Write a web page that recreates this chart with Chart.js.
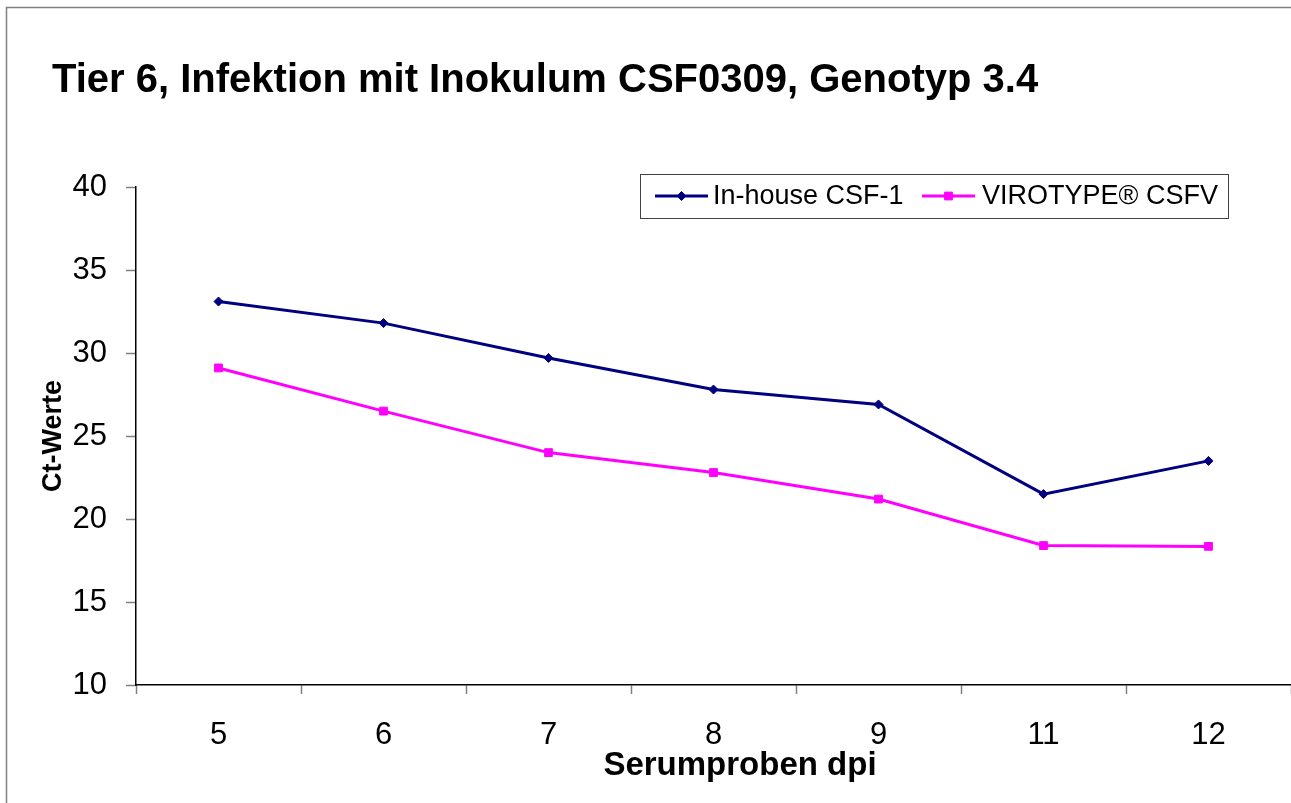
<!DOCTYPE html>
<html>
<head>
<meta charset="utf-8">
<script src="https://cdn.jsdelivr.net/npm/chart.js@4/dist/chart.umd.min.js"></script>
<style>
  html, body { margin: 0; padding: 0; background: #fff; overflow: hidden; }
  #wrap { width: 1291px; height: 803px; position: relative; }
  canvas { display: block; }
</style>
</head>
<body>
<div id="wrap"><canvas id="c"></canvas></div>
<script>
// ---- data ----
const categories = ['5', '6', '7', '8', '9', '11', '12'];
const inHouse = [33.1, 31.8, 29.7, 27.8, 26.9, 21.5, 23.5];
const virotype = [29.1, 26.5, 24.0, 22.8, 21.2, 18.4, 18.35];
const seriesNames = ['In-house CSF-1', 'VIROTYPE\u00AE CSFV'];
const yMin = 10, yMax = 40, yStep = 5;
const chartTitle = 'Tier 6, Infektion mit Inokulum CSF0309, Genotyp 3.4';
const xTitle = 'Serumproben dpi';
const yTitle = 'Ct-Werte';

const FONT = '"Liberation Sans", Arial, sans-serif';

const decorPlugin = {
  id: 'decor',
  beforeDraw(chart) {
    const ctx = chart.ctx;
    ctx.save();
    ctx.fillStyle = '#ffffff';
    ctx.fillRect(0, 0, chart.width, chart.height);
    ctx.strokeStyle = '#7f7f7f';
    ctx.lineWidth = 1.5;
    ctx.strokeRect(6.5, 7.5, chart.width + 20, chart.height + 20);
    ctx.restore();
  },
  afterDraw(chart) {
    const ctx = chart.ctx;
    ctx.save();
    ctx.fillStyle = '#000';
    ctx.font = 'bold 40px ' + FONT;
    ctx.textAlign = 'left';
    ctx.textBaseline = 'alphabetic';
    ctx.fillText(chartTitle, 52, 92);
    ctx.font = 'bold 33px ' + FONT;
    ctx.textAlign = 'center';
    ctx.fillText(xTitle, 740, 775);

    const bx = 640.5, by = 174.5, bw = 588, bh = 44;
    ctx.fillStyle = '#fff';
    ctx.fillRect(bx, by, bw, bh);
    ctx.strokeStyle = '#444';
    ctx.lineWidth = 1;
    ctx.strokeRect(bx, by, bw, bh);
    const items = [
      { x0: 655, x1: 708, tx: 713 },
      { x0: 922, x1: 975, tx: 982 }
    ];
    const ly = 196;
    chart.data.datasets.forEach((ds, i) => {
      const it = items[i];
      ctx.strokeStyle = ds.borderColor;
      ctx.lineWidth = 3;
      ctx.beginPath();
      ctx.moveTo(it.x0, ly);
      ctx.lineTo(it.x1, ly);
      ctx.stroke();
      ctx.fillStyle = ds.borderColor;
      ctx.strokeStyle = ds.borderColor;
      ctx.lineWidth = 1;
      Chart.helpers.drawPoint(ctx, {
        pointStyle: ds.pointStyle,
        radius: ds.pointRadius,
        rotation: 0,
        borderWidth: 1
      }, (it.x0 + it.x1) / 2, ly);
      ctx.fillStyle = '#000';
      ctx.font = '27px ' + FONT;
      ctx.textAlign = 'left';
      ctx.textBaseline = 'middle';
      ctx.fillText(ds.label, it.tx, ly + 1);
    });
    ctx.restore();
  }
};

new Chart(document.getElementById('c'), {
  type: 'line',
  data: {
    labels: categories,
    datasets: [
      {
        label: seriesNames[0],
        data: inHouse,
        borderColor: '#000080',
        backgroundColor: '#000080',
        borderWidth: 3,
        pointStyle: 'rectRot',
        pointRadius: 4.5,
        pointHoverRadius: 4.5,
        pointBorderWidth: 1,
        tension: 0
      },
      {
        label: seriesNames[1],
        data: virotype,
        borderColor: '#FF00FF',
        backgroundColor: '#FF00FF',
        borderWidth: 3,
        pointStyle: 'rect',
        pointRadius: 5.5,
        pointHoverRadius: 5.5,
        pointBorderWidth: 1,
        tension: 0
      }
    ]
  },
  options: {
    responsive: true,
    maintainAspectRatio: false,
    animation: false,
    events: [],
    layout: { autoPadding: false, padding: { left: 0, right: 0, top: 187, bottom: 0 } },
    plugins: {
      legend: { display: false },
      title: { display: false },
      tooltip: { enabled: false }
    },
    scales: {
      x: {
        type: 'category',
        offset: true,
        grid: {
          offset: true,
          drawOnChartArea: false,
          drawTicks: true,
          tickLength: 9,
          tickColor: '#808080',
          tickWidth: 1.5
        },
        border: { display: true, color: '#000', width: 1.5 },
        ticks: {
          color: '#000',
          font: { family: FONT, size: 31 },
          padding: 23,
          maxRotation: 0,
          autoSkip: false
        },
        afterFit(scale) {
          scale.height = 803 - 685;
          scale.paddingLeft = 0;
          scale.paddingRight = 0;
        }
      },
      y: {
        min: yMin,
        max: yMax,
        grid: {
          drawOnChartArea: false,
          drawTicks: true,
          tickLength: 10,
          tickColor: '#808080',
          tickWidth: 1.5
        },
        border: { display: true, color: '#000', width: 1.5 },
        ticks: {
          stepSize: yStep,
          color: '#000',
          font: { family: FONT, size: 31 },
          padding: 19
        },
        title: {
          display: true,
          text: yTitle,
          color: '#000',
          font: { family: FONT, size: 27, weight: 'bold' },
          padding: { top: 37, bottom: 0 }
        },
        afterFit(scale) { scale.width = 136; }
      }
    }
  },
  plugins: [decorPlugin]
});
</script>
</body>
</html>
